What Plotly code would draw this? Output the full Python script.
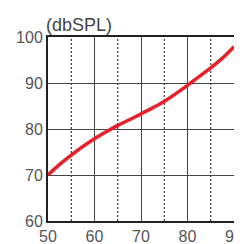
import plotly.graph_objects as go

x_vals = [50, 52.5, 55, 57.5, 60, 62.5, 65, 67.5, 70, 72.5, 75, 77.5, 80, 82.5, 85, 87.5, 90]
y_vals = [70.0, 72.3, 74.3, 76.2, 77.9, 79.4, 80.8, 82.0, 83.3, 84.6, 86.0, 87.7, 89.5, 91.4, 93.3, 95.4, 97.9]

x_ticks = [50, 60, 70, 80, 90]
y_ticks = [60, 70, 80, 90, 100]
minor_x = [55, 65, 75, 85]
unit_label = "(dbSPL)"

fig = go.Figure()
fig.add_trace(go.Scatter(x=x_vals, y=y_vals, mode="lines",
                         line=dict(color="#e8202a", width=3.5, shape="spline"),
                         showlegend=False, hoverinfo="skip"))

for mx in minor_x:
    fig.add_vline(x=mx, line=dict(color="#111111", width=1, dash="2px,2px"), layer="below")

font = dict(family="Liberation Sans, Arial, sans-serif", size=16, color="#555555")
title_font = dict(family="Liberation Sans, Arial, sans-serif", size=18, color="#444444")

fig.update_layout(
    width=242, height=244,
    margin=dict(l=40, r=7, t=29, b=21),
    paper_bgcolor="white", plot_bgcolor="white",
    font=font,
    xaxis=dict(range=[50, 90], tickvals=x_ticks, ticks="", showgrid=True,
               gridcolor="#444444", gridwidth=1, showline=True, linecolor="#222222",
               linewidth=2, mirror=True, zeroline=False, tickfont=font, ticklen=0),
    yaxis=dict(range=[60, 100], tickvals=y_ticks, ticks="", showgrid=True,
               gridcolor="#444444", gridwidth=1, showline=True, linecolor="#222222",
               linewidth=2, mirror=True, zeroline=False, tickfont=font),
    annotations=[dict(text=unit_label, x=0, y=1, xref="paper", yref="paper",
                      xanchor="left", yanchor="bottom", xshift=-4, yshift=0,
                      showarrow=False, font=title_font)],
)

fig.write_html("out.html")
